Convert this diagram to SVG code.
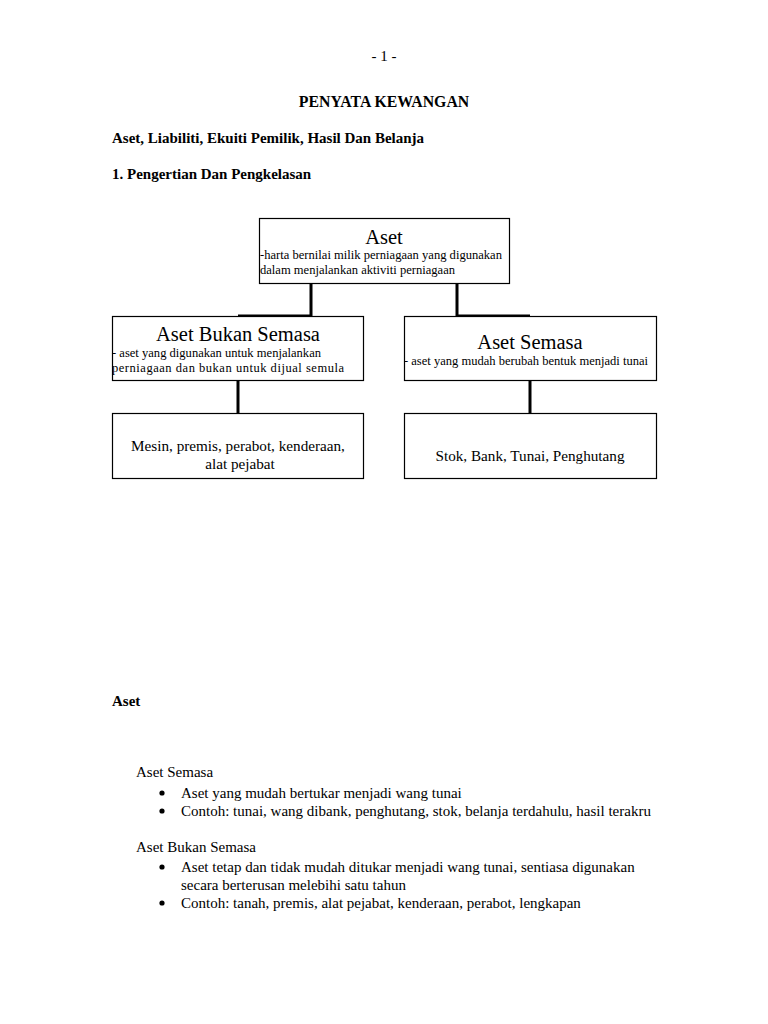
<svg xmlns="http://www.w3.org/2000/svg" width="768" height="1024" viewBox="0 0 768 1024">
<style>
text{font-family:"Liberation Serif","Times New Roman",serif;fill:#000}
.b{font-weight:bold;font-size:15px}
.t{font-size:15px}
.m{font-size:15.2px}
.h{font-size:20.5px}
.s{font-size:12.5px}
.box{fill:#fff;stroke:#000;stroke-width:1.2}
.c{fill:none;stroke:#000;stroke-width:3}
</style>
<rect width="768" height="1024" fill="#fff"/>
<text class="t" x="384" y="61" text-anchor="middle">- 1 -</text>
<text class="b" x="384" y="107" text-anchor="middle" style="font-size:15.8px">PENYATA KEWANGAN</text>
<text class="b" x="112" y="143">Aset, Liabiliti, Ekuiti Pemilik, Hasil Dan Belanja</text>
<text class="b" x="112" y="179">1. Pengertian Dan Pengkelasan</text>
<g id="connectors">
<polyline class="c" points="311,283 311,316 238,316"/>
<polyline class="c" points="457,283 457,316 530,316"/>
<line class="c" x1="238" y1="380" x2="238" y2="413"/>
<line class="c" x1="530" y1="380" x2="530" y2="413"/>
</g>
<g id="aset">
<rect class="box" x="259.5" y="218.5" width="250" height="65"/>
<text class="h" x="384" y="244" text-anchor="middle">Aset</text>
<text class="s" x="260" y="259" textLength="242" lengthAdjust="spacingAndGlyphs">-harta bernilai milik perniagaan yang digunakan</text>
<text class="s" x="260" y="274" textLength="195" lengthAdjust="spacingAndGlyphs">dalam menjalankan aktiviti perniagaan</text>
</g>
<g id="aset-bukan-semasa">
<rect class="box" x="112.5" y="316.5" width="251" height="64"/>
<text class="h" x="238" y="341" text-anchor="middle">Aset Bukan Semasa</text>
<text class="s" x="112" y="357" textLength="209" lengthAdjust="spacingAndGlyphs">- aset yang digunakan untuk menjalankan</text>
<text class="s" x="112" y="372" textLength="232" lengthAdjust="spacing">perniagaan dan bukan untuk dijual semula</text>
</g>
<g id="aset-semasa">
<rect class="box" x="404.5" y="316.5" width="252" height="64"/>
<text class="h" x="530" y="349" text-anchor="middle">Aset Semasa</text>
<text class="s" x="404" y="365" textLength="244" lengthAdjust="spacingAndGlyphs">- aset yang mudah berubah bentuk menjadi tunai</text>
</g>
<g id="contoh-bukan-semasa">
<rect class="box" x="112.5" y="413.5" width="251" height="65"/>
<text class="m" x="238" y="451" text-anchor="middle">Mesin, premis, perabot, kenderaan,</text>
<text class="m" x="240" y="469" text-anchor="middle">alat pejabat</text>
</g>
<g id="contoh-semasa">
<rect class="box" x="404.5" y="413.5" width="252" height="65"/>
<text class="m" x="530" y="461" text-anchor="middle">Stok, Bank, Tunai, Penghutang</text>
</g>
<text class="b" x="112" y="706">Aset</text>
<text class="t" x="136" y="777">Aset Semasa</text>
<circle cx="162" cy="793" r="2.6"/>
<text class="t" x="181" y="798">Aset yang mudah bertukar menjadi wang tunai</text>
<circle cx="162" cy="811" r="2.6"/>
<text class="t" x="181" y="816">Contoh: tunai, wang dibank, penghutang, stok, belanja terdahulu, hasil terakru</text>
<text class="t" x="136" y="852">Aset Bukan Semasa</text>
<circle cx="162" cy="867" r="2.6"/>
<text class="t" x="181" y="872">Aset tetap dan tidak mudah ditukar menjadi wang tunai, sentiasa digunakan</text>
<text class="t" x="181" y="890">secara berterusan melebihi satu tahun</text>
<circle cx="162" cy="903" r="2.6"/>
<text class="t" x="181" y="908">Contoh: tanah, premis, alat pejabat, kenderaan, perabot, lengkapan</text>
</svg>
